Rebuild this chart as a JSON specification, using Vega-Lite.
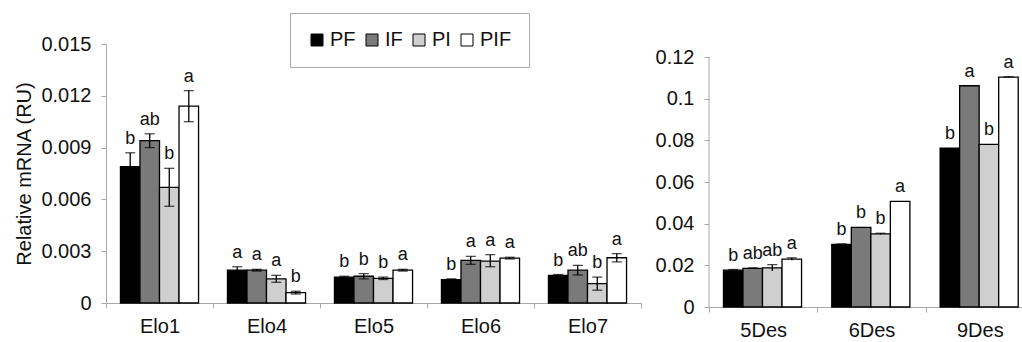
{
  "$schema": "https://vega.github.io/schema/vega-lite/v6.json",
  "padding": {"left": 14, "top": 12, "right": 0, "bottom": 0},
  "spacing": 13,
  "config": {
    "font": "Liberation Sans",
    "view": {"stroke": null},
    "axis": {
      "domainColor": "#a8a8a8", "tickColor": "#a8a8a8", "grid": false,
      "labelFontSize": 20, "labelColor": "#111", "tickSize": 5,
      "titleFontSize": 20, "titleFontWeight": "normal", "titleColor": "#111"
    }
  },
  "datasets": {
    "left": [
      {"gene": "Elo1", "trt": "PF", "value": 0.0079, "lo": 0.0071, "hi": 0.0087, "letter": "b"},
      {"gene": "Elo1", "trt": "IF", "value": 0.0094, "lo": 0.0090, "hi": 0.0098, "letter": "ab"},
      {"gene": "Elo1", "trt": "PI", "value": 0.0067, "lo": 0.0056, "hi": 0.0078, "letter": "b"},
      {"gene": "Elo1", "trt": "PIF", "value": 0.0114, "lo": 0.0105, "hi": 0.0123, "letter": "a"},
      {"gene": "Elo4", "trt": "PF", "value": 0.0019, "lo": 0.0017, "hi": 0.0021, "letter": "a"},
      {"gene": "Elo4", "trt": "IF", "value": 0.0019, "lo": 0.00185, "hi": 0.00195, "letter": "a"},
      {"gene": "Elo4", "trt": "PI", "value": 0.0014, "lo": 0.0012, "hi": 0.0016, "letter": "a"},
      {"gene": "Elo4", "trt": "PIF", "value": 0.0006, "lo": 0.00052, "hi": 0.00068, "letter": "b"},
      {"gene": "Elo5", "trt": "PF", "value": 0.0015, "lo": 0.00145, "hi": 0.00155, "letter": "b"},
      {"gene": "Elo5", "trt": "IF", "value": 0.00155, "lo": 0.0014, "hi": 0.0017, "letter": "b"},
      {"gene": "Elo5", "trt": "PI", "value": 0.00143, "lo": 0.00136, "hi": 0.0015, "letter": "b"},
      {"gene": "Elo5", "trt": "PIF", "value": 0.0019, "lo": 0.00185, "hi": 0.00195, "letter": "a"},
      {"gene": "Elo6", "trt": "PF", "value": 0.00135, "lo": 0.0013, "hi": 0.0014, "letter": "b"},
      {"gene": "Elo6", "trt": "IF", "value": 0.00247, "lo": 0.00224, "hi": 0.0027, "letter": "a"},
      {"gene": "Elo6", "trt": "PI", "value": 0.00243, "lo": 0.0021, "hi": 0.0028, "letter": "a"},
      {"gene": "Elo6", "trt": "PIF", "value": 0.0026, "lo": 0.00255, "hi": 0.00265, "letter": "a"},
      {"gene": "Elo7", "trt": "PF", "value": 0.0016, "lo": 0.00155, "hi": 0.00165, "letter": "b"},
      {"gene": "Elo7", "trt": "IF", "value": 0.0019, "lo": 0.00162, "hi": 0.00218, "letter": "ab"},
      {"gene": "Elo7", "trt": "PI", "value": 0.00112, "lo": 0.00074, "hi": 0.0015, "letter": "b"},
      {"gene": "Elo7", "trt": "PIF", "value": 0.00262, "lo": 0.00238, "hi": 0.00286, "letter": "a"}
    ],
    "right": [
      {"gene": "5Des", "trt": "PF", "value": 0.0177, "lo": 0.0174, "hi": 0.0180, "letter": "b"},
      {"gene": "5Des", "trt": "IF", "value": 0.0185, "lo": 0.0182, "hi": 0.0188, "letter": "ab"},
      {"gene": "5Des", "trt": "PI", "value": 0.0188, "lo": 0.0173, "hi": 0.0203, "letter": "ab"},
      {"gene": "5Des", "trt": "PIF", "value": 0.0230, "lo": 0.0224, "hi": 0.0236, "letter": "a"},
      {"gene": "6Des", "trt": "PF", "value": 0.0301, "lo": 0.0299, "hi": 0.0303, "letter": "b"},
      {"gene": "6Des", "trt": "IF", "value": 0.0382, "lo": 0.0382, "hi": 0.0382, "letter": "b"},
      {"gene": "6Des", "trt": "PI", "value": 0.0351, "lo": 0.0348, "hi": 0.0354, "letter": "b"},
      {"gene": "6Des", "trt": "PIF", "value": 0.0507, "lo": 0.0507, "hi": 0.0507, "letter": "a"},
      {"gene": "9Des", "trt": "PF", "value": 0.0762, "lo": 0.0762, "hi": 0.0762, "letter": "b"},
      {"gene": "9Des", "trt": "IF", "value": 0.1062, "lo": 0.1062, "hi": 0.1062, "letter": "a"},
      {"gene": "9Des", "trt": "PI", "value": 0.0781, "lo": 0.0781, "hi": 0.0781, "letter": "b"},
      {"gene": "9Des", "trt": "PIF", "value": 0.1103, "lo": 0.1101, "hi": 0.1105, "letter": "a"}
    ]
  },
  "hconcat": [
    {
      "width": 535,
      "height": 259,
      "data": {"name": "left"},
      "encoding": {
        "x": {"field": "gene", "type": "nominal", "sort": null,
              "scale": {"paddingInner": 0, "paddingOuter": 0},
              "axis": {"title": null, "labelAngle": 0, "tickBand": "extent", "labelPadding": 8}},
        "xOffset": {"field": "trt", "type": "nominal", "sort": ["PF", "IF", "PI", "PIF"],
                    "scale": {"paddingInner": 0, "paddingOuter": 0.74}}
      },
      "layer": [
        {
          "mark": {"type": "bar", "stroke": "black", "strokeWidth": 1.3},
          "encoding": {
            "y": {"field": "value", "type": "quantitative",
                  "scale": {"domain": [0, 0.015], "nice": false},
                  "axis": {"title": "Relative mRNA (RU)", "values": [0, 0.003, 0.006, 0.009, 0.012, 0.015],
                           "format": ".3~f", "labelPadding": 10, "titlePadding": 6}},
            "fill": {"field": "trt", "type": "nominal",
                     "scale": {"domain": ["PF", "IF", "PI", "PIF"], "range": ["#000000", "#7a7a7a", "#cfcfcf", "#ffffff"]},
                     "legend": {"orient": "none", "legendX": 184, "legendY": -31, "direction": "horizontal",
                                "title": null, "symbolType": "square", "symbolSize": 144,
                                "symbolStrokeColor": "black", "symbolStrokeWidth": 1,
                                "labelFontSize": 20, "labelColor": "#111", "labelOffset": 3, "columnPadding": 6,
                                "strokeColor": "#aaaaaa", "fillColor": "white", "padding": 17}}
          }
        },
        {
          "transform": [{"filter": "datum.hi > datum.value"}],
          "mark": {"type": "rule", "color": "black", "strokeWidth": 1.3},
          "encoding": {"y": {"field": "lo", "type": "quantitative"}, "y2": {"field": "hi"}}
        },
        {
          "transform": [{"filter": "datum.hi > datum.value"}],
          "mark": {"type": "tick", "color": "black", "size": 10, "thickness": 1.3},
          "encoding": {"y": {"field": "hi", "type": "quantitative"}}
        },
        {
          "transform": [{"filter": "datum.hi > datum.value"}],
          "mark": {"type": "tick", "color": "black", "size": 10, "thickness": 1.3},
          "encoding": {"y": {"field": "lo", "type": "quantitative"}}
        },
        {
          "mark": {"type": "text", "baseline": "alphabetic", "dy": -9, "fontSize": 18, "color": "#111"},
          "encoding": {"y": {"field": "hi", "type": "quantitative"}, "text": {"field": "letter"}}
        }
      ]
    },
    {
      "width": 325,
      "height": 263,
      "data": {"name": "right"},
      "layer": [
        {
          "mark": {"type": "bar", "stroke": "black", "strokeWidth": 1.3},
          "encoding": {
            "x": {"field": "gene", "type": "nominal", "sort": null,
                  "scale": {"paddingInner": 0, "paddingOuter": 0},
                  "axis": {"title": null, "labelAngle": 0, "tickBand": "extent", "labelPadding": 8}},
            "xOffset": {"field": "trt", "type": "nominal", "sort": ["PF", "IF", "PI", "PIF"],
                        "scale": {"paddingInner": 0, "paddingOuter": 0.77}},
            "y": {"field": "value", "type": "quantitative",
                  "scale": {"domain": [0, 0.12624], "nice": false},
                  "axis": {"title": null, "values": [0, 0.02, 0.04, 0.06, 0.08, 0.1, 0.12],
                           "format": ".2~f", "labelPadding": 10, "domain": false}},
            "fill": {"field": "trt", "type": "nominal", "legend": null,
                     "scale": {"domain": ["PF", "IF", "PI", "PIF"], "range": ["#000000", "#7a7a7a", "#cfcfcf", "#ffffff"]}}
          }
        },
        {
          "data": {"values": [{}]},
          "mark": {"type": "rule", "color": "#a8a8a8", "strokeWidth": 1},
          "encoding": {
            "x": {"datum": "5Des", "type": "nominal", "bandPosition": 0},
            "y": {"datum": 0, "type": "quantitative"},
            "y2": {"datum": 0.12}
          }
        },
        {
          "transform": [{"filter": "datum.hi > datum.value"}],
          "mark": {"type": "rule", "color": "black", "strokeWidth": 1.3},
          "encoding": {
            "x": {"field": "gene", "type": "nominal", "sort": null},
            "xOffset": {"field": "trt", "type": "nominal", "sort": ["PF", "IF", "PI", "PIF"]},
            "y": {"field": "lo", "type": "quantitative"}, "y2": {"field": "hi"}}
        },
        {
          "transform": [{"filter": "datum.hi > datum.value"}],
          "mark": {"type": "tick", "color": "black", "size": 10, "thickness": 1.3},
          "encoding": {
            "x": {"field": "gene", "type": "nominal", "sort": null},
            "xOffset": {"field": "trt", "type": "nominal", "sort": ["PF", "IF", "PI", "PIF"]},
            "y": {"field": "hi", "type": "quantitative"}}
        },
        {
          "mark": {"type": "text", "baseline": "alphabetic", "dy": -9, "fontSize": 18, "color": "#111"},
          "encoding": {
            "x": {"field": "gene", "type": "nominal", "sort": null},
            "xOffset": {"field": "trt", "type": "nominal", "sort": ["PF", "IF", "PI", "PIF"]},
            "y": {"field": "hi", "type": "quantitative"}, "text": {"field": "letter"}}
        }
      ]
    }
  ],
  "resolve": {"scale": {"fill": "shared"}}
}
